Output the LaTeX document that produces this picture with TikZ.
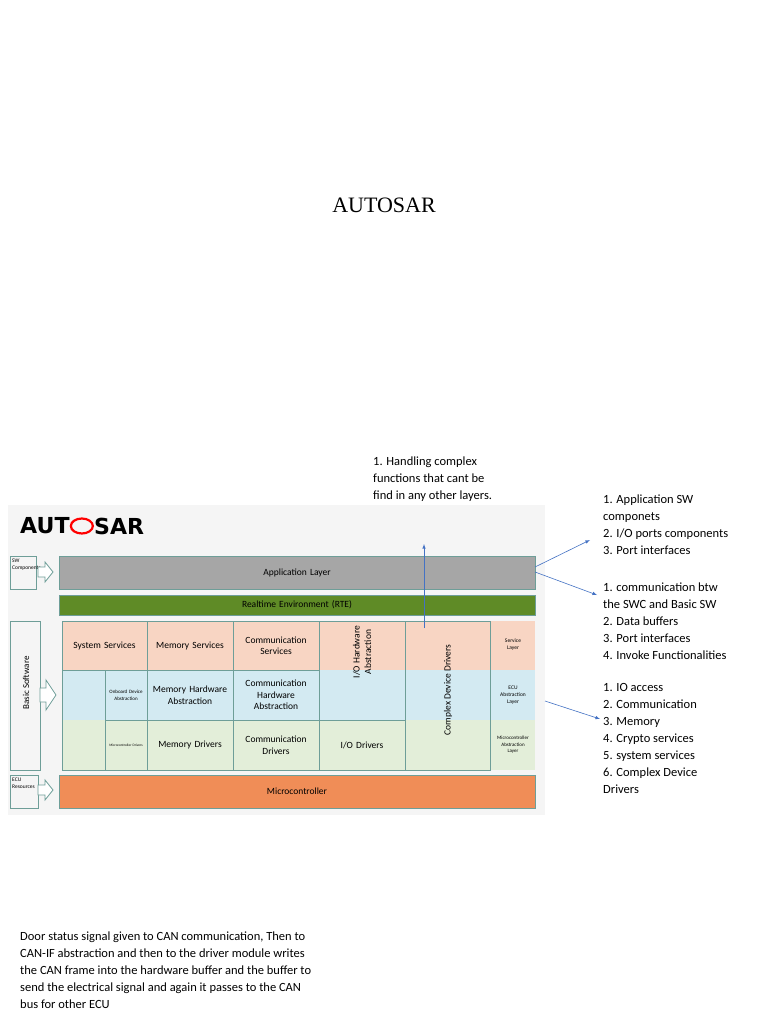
\documentclass[tikz,border=0pt]{standalone}
\usepackage{fontspec}
\usetikzlibrary{shapes.geometric}
\setmainfont{Carlito}
\newfontfamily\titlefont{Liberation Serif}
\newfontfamily\logofont{DejaVu Sans}
\definecolor{appg}{HTML}{A6A6A6}
\definecolor{rteg}{HTML}{5F8B26}
\definecolor{svc}{HTML}{F8D5C3}
\definecolor{ecu}{HTML}{D3EAF2}
\definecolor{mcl}{HTML}{E3EED9}
\definecolor{mcu}{HTML}{F08D57}
\definecolor{bord}{HTML}{6E9E98}
\definecolor{arr}{HTML}{4472C4}
\tikzset{
 cell/.style={draw=bord,line width=0.8pt,align=center,inner sep=1pt,font=\fontsize{9.5}{11.5}\selectfont},
 lab/.style={align=center,inner sep=0pt,font=\fontsize{5.5}{7}\selectfont},
 note/.style={align=left,anchor=north west,inner sep=0pt,font=\fontsize{12.5}{17}\selectfont},
 ann/.style={draw=arr,line width=0.6pt,-latex},
}
\newcommand\bx[6]{\node[#6,minimum width={(#3-#1)*1pt},minimum height={(#4-#2)*1pt},text width={(#3-#1-4)*1pt}] (#5) at ({(#1+#3)/2},{(#2+#4)/2}) {};}
\newcommand\bt[7]{\node[#6,minimum width={(#3-#1)*1pt},minimum height={(#4-#2)*1pt},text width={(#3-#1-4)*1pt}] (#5) at ({(#1+#3)/2},{(#2+#4)/2}) {#7};}
\begin{document}
\begin{tikzpicture}[x=1pt,y=-1pt]
\useasboundingbox[fill=white] (0,0) rectangle (768,1024);
\node[font=\titlefont\fontsize{22}{26}\selectfont] (title) at (384,205) {AUTOSAR};
% logo
\fill[gray!8] (8,505) rectangle (545,815);
\node[font=\logofont\bfseries\fontsize{21}{21}\selectfont,anchor=west,inner sep=0pt,scale=1.05] (l1) at (20,526) {AUT};
\node[draw=red,line width=2.2pt,ellipse,minimum width=22pt,minimum height=15pt,inner sep=0pt,anchor=west] (lo) at (l1.east) {};
\node[font=\logofont\bfseries\fontsize{21}{21}\selectfont,anchor=west,inner sep=0pt,scale=1.05] (l2) at (lo.east) {SAR};
% layers
\bt{59}{556}{535}{589}{app}{cell,fill=appg}{Application Layer}
\bt{59}{595}{535}{615}{rte}{cell,fill=rteg}{Realtime Environment (RTE)}
\fill[svc] (62,621) rectangle (535,670);
\fill[ecu] (62,670) rectangle (535,720);
\fill[mcl] (62,720) rectangle (535,770);
\bt{62}{621}{147}{670}{ss}{cell}{System Services}
\bt{147}{621}{233}{670}{ms}{cell}{Memory Services}
\bt{233}{621}{319}{670}{cs}{cell}{Communication Services}
\draw[bord,line width=0.8pt] (62,670) -- (62,770) -- (105,770);
\bt{105}{670}{147}{720}{oda}{cell,font=\fontsize{5}{7}\selectfont}{Onboard Device Abstraction}
\bt{147}{670}{233}{720}{mha}{cell}{Memory Hardware Abstraction}
\bt{233}{670}{319}{720}{cha}{cell}{Communication Hardware Abstraction}
\bt{105}{720}{147}{770}{mcd}{cell,font=\fontsize{3.5}{5}\selectfont}{Microcontroller Drivers}
\bt{147}{720}{233}{770}{md}{cell}{Memory Drivers}
\bt{233}{720}{319}{770}{cd}{cell}{Communication Drivers}
\bx{319}{621}{405}{720}{ioh}{cell}
\node[rotate=90,align=center,font=\fontsize{9.5}{11.5}\selectfont] at (362,652) {I/O Hardware\\Abstraction};
\bt{319}{720}{405}{770}{iod}{cell}{I/O Drivers}
\bx{405}{621}{490}{770}{cdd}{cell}
\node[rotate=90,font=\fontsize{9.5}{11.5}\selectfont] at (448,690) {Complex Device Drivers};
\node[lab] (sl) at (513,645) {Service\\Layer};
\node[lab] (el) at (513,695) {ECU\\Abstraction\\Layer};
\node[lab,font=\fontsize{5}{6.5}\selectfont] (ml) at (513,745) {Microcontroller\\Abstraction\\Layer};
\bt{59}{775}{535}{808}{mc}{cell,fill=mcu}{Microcontroller}
% left side
\draw[bord,line width=0.8pt] (10,556) rectangle (36,589);
\node[lab,align=left,anchor=north west] (swc) at (12,559) {SW\\Components};
\draw[bord,line width=0.8pt,fill=white] (38,567) -- (45,567) -- (45,562) -- (53,572) -- (45,582) -- (45,577) -- (38,577) -- cycle;
\draw[bord,line width=0.8pt] (10,621) rectangle (40,770);
\node[rotate=90,font=\fontsize{9}{11}\selectfont] (bsw) at (26,683) {Basic Software};
\draw[bord,line width=0.8pt,fill=white] (40,688) -- (46,688) -- (46,680) -- (56,695) -- (46,710) -- (46,702) -- (40,702) -- cycle;
\draw[bord,line width=0.8pt] (10,775) rectangle (38,808);
\node[lab,align=left,anchor=north west] (ecur) at (12,778) {ECU\\Resources};
\draw[bord,line width=0.8pt,fill=white] (38,785) -- (45,785) -- (45,780) -- (53,790) -- (45,800) -- (45,795) -- (38,795) -- cycle;
% notes
\node[note] (n1) at (373,457) {1. Handling complex\\functions that cant be\\find in any other layers.};
\node[note] (n2) at (603,495) {1. Application SW\\componets\\2. I/O ports components\\3. Port interfaces};
\node[note] (n3) at (603,583) {1. communication btw\\the SWC and Basic SW\\2. Data buffers\\3. Port interfaces\\4. Invoke Functionalities};
\node[note] (n4) at (603,683) {1. IO access\\2. Communication\\3. Memory\\4. Crypto services\\5. system services\\6. Complex Device\\Drivers};
\node[note] (n5) at (20,932) {Door status signal given to CAN communication, Then to\\CAN-IF abstraction and then to the driver module writes\\the CAN frame into the hardware buffer and the buffer to\\send the electrical signal and again it passes to the CAN\\bus for other ECU};
% annotation arrows
\coordinate (a1s) at (424,628); \coordinate (a1e) at (424,544);
\draw[ann] (a1s) -- (a1e);
\coordinate (a2s) at (535,567); \coordinate (a2e) at (590,540);
\draw[ann] (a2s) -- (a2e);
\coordinate (a3s) at (535,572); \coordinate (a3e) at (597,595);
\draw[ann] (a3s) -- (a3e);
\coordinate (a4s) at (545,701); \coordinate (a4e) at (600,719);
\draw[ann] (a4s) -- (a4e);
\end{tikzpicture}
\end{document}
